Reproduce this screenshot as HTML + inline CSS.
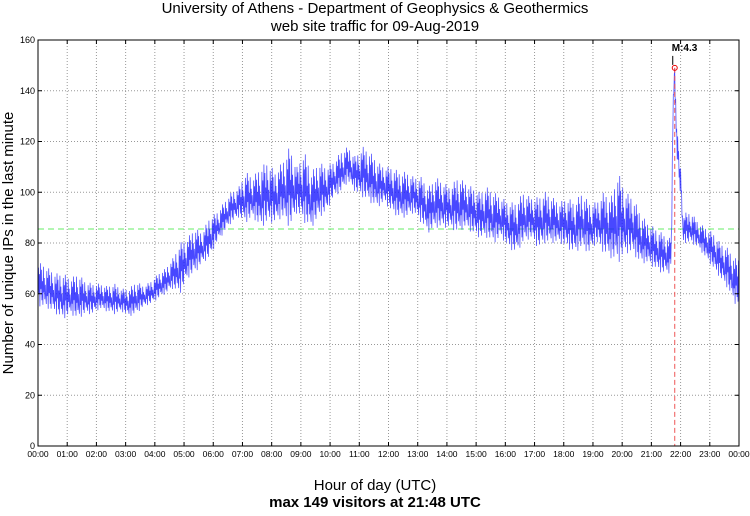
<!DOCTYPE html>
<html><head><meta charset="utf-8"><style>
body{margin:0;background:#fff;width:750px;height:511px;overflow:hidden}
svg{font-family:"Liberation Sans",sans-serif}
</style></head><body>
<svg id="c" width="750" height="511">
<text x="375" y="13" text-anchor="middle" font-size="15">University of Athens - Department of Geophysics &amp; Geothermics</text>
<text x="375" y="31" text-anchor="middle" font-size="15">web site traffic for 09-Aug-2019</text>
<text transform="translate(13,243) rotate(-90)" text-anchor="middle" font-size="15">Number of unique IPs in the last minute</text>
<text x="375" y="490" text-anchor="middle" font-size="15">Hour of day (UTC)</text>
<text x="375" y="507" text-anchor="middle" font-size="15" font-weight="bold">max 149 visitors at 21:48 UTC</text>
<g id="grid"></g><g id="series"></g><g id="ann"></g><g id="axes"></g>
</svg>
<script>
const yTicks=[0,20,40,60,80,100,120,140,160];
const xTickLabels=["00:00","01:00","02:00","03:00","04:00","05:00","06:00","07:00","08:00","09:00","10:00","11:00","12:00","13:00","14:00","15:00","16:00","17:00","18:00","19:00","20:00","21:00","22:00","23:00","00:00"];
// 15-minute buckets: low and high of minute counts
const lows=[55,54,52,50, 52,50,52,52, 54,53,52,53, 51,52,55,56, 58,60,62,60, 66,68,72,74, 80,84,88,90, 88,90,86,88, 88,90,86,92, 88,86,90,92, 98,100,104,100, 98,96,94,96, 92,90,90,92, 88,84,86,86, 86,84,86,84, 82,82,80,82, 78,76,80,82, 78,80,80,80, 78,76,78,76, 80,76,74,72, 76,76,72,72, 70,68,68,70, 80,80,78,74, 70,66,62,56];
const highs=[72,70,68,68, 66,68,65,64, 64,63,64,62, 62,65,63,65, 68,70,74,80, 82,86,84,90, 92,96,100,102, 108,106,110,112, 108,112,118,110, 116,108,112,110, 112,116,118,114, 118,116,112,110, 110,108,108,106, 106,102,106,104, 102,106,104,102, 100,102,100,98, 96,96,100,98, 98,100,98,96, 98,96,100,96, 96,100,98,108, 100,98,92,88, 86,84,82,84, 92,92,88,86, 84,80,78,74];
// minute-by-minute values of the earthquake spike starting 21:40
const spikeStartMinute=21*60+40;
const spikeValues=[76,82,92,108,124,136,142,146,149,140,132,126,122,119,116,114,112,110,108,106,104,102,98,94,90,88,86,85];
const avgLevel=85.5, peakHour=21.8, peakValue=149, peakLabel="M:4.3";
const L=38,R=739,T=40,B=446;
const X=h=>L+(R-L)*h/24, Y=v=>B-(B-T)*v/160;
const NS="http://www.w3.org/2000/svg";
function mk(t,a,p){const e=document.createElementNS(NS,t);for(const k in a)e.setAttribute(k,a[k]);p.appendChild(e);return e;}
const grid=document.getElementById('grid'),axes=document.getElementById('axes'),ser=document.getElementById('series'),ann=document.getElementById('ann');
yTicks.forEach(v=>{
 if(v>0&&v<160){const g=mk('line',{x1:L,x2:R,y1:Y(v),y2:Y(v),stroke:'#999','stroke-dasharray':'1,2'},grid);
 }
 const t=mk('text',{x:L-3,y:Y(v)+3,'text-anchor':'end','font-size':9},axes);t.textContent=v;
 
 mk('line',{x1:L,x2:L+4,y1:Y(v),y2:Y(v),stroke:'#000'},axes);mk('line',{x1:R,x2:R-4,y1:Y(v),y2:Y(v),stroke:'#000'},axes);
});
xTickLabels.forEach((s,i)=>{
 const x=X(i);
 if(i>0&&i<24){const g=mk('line',{x1:x,x2:x,y1:T,y2:B,stroke:'#999','stroke-dasharray':'1,2'},grid);
 }
 const t=mk('text',{x:x,y:B+11,'text-anchor':'middle','font-size':8.5},axes);t.textContent=s;
 
 mk('line',{x1:x,x2:x,y1:B,y2:B-4,stroke:'#000'},axes);mk('line',{x1:x,x2:x,y1:T,y2:T+4,stroke:'#000'},axes);
});
const box=mk('rect',{x:L,y:T,width:R-L,height:B-T,fill:'none',stroke:'#000'},axes);

const avg=mk('line',{x1:L,x2:R,y1:Y(avgLevel),y2:Y(avgLevel),stroke:'#6e6','stroke-dasharray':'6,4'},grid);

const jit=[0.1,0.9,0.3,0.75,0.0,1.0,0.4,0.85,0.15,0.6,0.05,0.95,0.35,0.7,0.2,0.55,0.25];
const n=lows.length,pts=[];const per=15;
for(let m=0;m<n*per;m++){
 let v;
 const k=m-spikeStartMinute;
 if(k>=0&&k<spikeValues.length){v=spikeValues[k]+(k===8?0:(jit[m%jit.length]-0.5)*12);}
 else{
 const b=(m+0.5)/per-0.5;const i0=Math.max(0,Math.min(n-1,Math.floor(b))),i1=Math.min(n-1,i0+1);const f=Math.max(0,Math.min(1,b-i0));
 const lo=lows[i0]*(1-f)+lows[i1]*f, hi=highs[i0]*(1-f)+highs[i1]*f;
 v=lo+(hi-lo)*jit[m%jit.length];}
 pts.push(X(m*24/(n*per)).toFixed(1)+','+Y(v).toFixed(1));
}
const pl=mk('polyline',{points:pts.join(' '),fill:'none',stroke:'#1a1aff','stroke-width':0.75,'stroke-opacity':0.8},ser);

const px=X(peakHour);
const vl=mk('line',{x1:px,x2:px,y1:Y(peakValue),y2:B,stroke:'#e55','stroke-dasharray':'5,3'},ann);

const ci=mk('circle',{cx:px,cy:Y(peakValue),r:2.5,fill:'none',stroke:'#e00'},ann);

mk('line',{x1:px-2,x2:px-2,y1:Y(peakValue)-12,y2:Y(peakValue)-3,stroke:'#000'},ann);
const lab=mk('text',{x:px-3,y:Y(peakValue)-17,'font-size':10,'font-weight':'bold'},ann);lab.textContent=peakLabel;

</script>
</body></html>
